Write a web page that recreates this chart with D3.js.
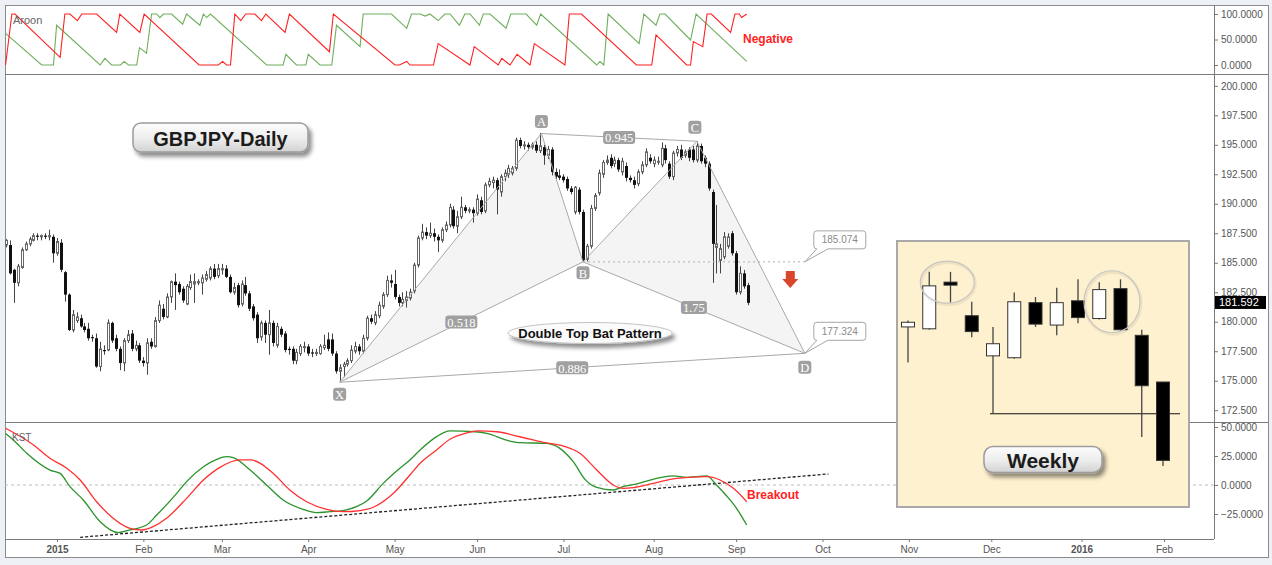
<!DOCTYPE html>
<html lang="en">
<head>
<meta charset="utf-8">
<title>GBPJPY Daily</title>
<script src="https://cdn.jsdelivr.net/npm/d3@7"></script>
<style type="text/css">
  body { margin: 0; background: #edf1f5; }
  svg { display: block; font-family: "Liberation Sans", Arial, sans-serif; }
  .axis text { fill: #555; font-size: 10px; }
  .axis line { stroke: #777; }
  .axis path { display: none; }
  .tag text { fill: #fff; font-family: "Liberation Serif", serif; font-size: 12.5px; }
</style>
</head>
<body>
<svg width="1272" height="565"></svg>
<script type="text/javascript">
// daily candles [open, high, low, close]; first bar is 2014-12-15
var dec14 = [[186.5,187.0,186.3,186.9],[186.5,186.9,184.0,184.1],[184.4,184.5,181.6,183.3],[183.3,184.9,183.0,184.7],
  [184.6,186.3,184.5,186.1],[186.1,186.8,186.0,186.6],[186.6,187.2,186.4,187.0],[186.9,187.5,186.8,187.3],
  [187.3,187.5,186.9,187.2],[187.2,187.4,186.9,187.3],[187.3,187.5,187.0,187.2],[187.2,187.8,186.9,187.3],
  [187.2,187.4,185.0,185.8]];
var jan15 = [[185.8,187.1,185.6,186.8],[186.7,187.0,184.2,184.4],[184.2,184.3,181.7,182.3],[182.3,182.4,179.2,179.3],
  [179.3,181.0,179.1,180.6],[180.1,180.8,179.9,180.4],[180.3,180.6,179.5,179.6],[179.6,179.9,179.1,179.3],
  [179.4,179.9,178.4,178.6],[178.7,178.9,178.3,178.6],[178.6,179.0,176.1,176.2],[176.2,178.3,175.8,177.7],
  [177.6,178.0,177.2,177.5],[177.6,180.2,177.5,179.9],[179.9,180.0,178.2,178.4],[178.6,178.9,177.5,177.7],
  [177.7,177.9,175.9,176.5],[176.5,178.6,175.8,178.4],[178.4,179.3,178.2,178.9],[179.0,179.3,177.5,177.7],
  [177.7,178.4,177.5,178.0],[178.0,178.2,176.5,176.7]];
var feb15 = [[176.7,177.0,176.2,176.5],[176.5,178.6,175.5,178.2],[178.3,178.6,177.7,177.9],[177.9,180.4,177.8,180.1],
  [180.1,181.8,179.9,181.4],[181.1,181.5,180.2,180.4],[180.4,182.4,180.3,182.1],[182.1,183.5,181.6,183.4],
  [183.4,184.1,181.0,183.1],[183.2,183.4,182.3,182.5],[182.8,183.0,181.6,181.8],[181.5,183.2,181.4,183.0],
  [182.9,184.0,182.7,183.4],[183.2,184.1,181.6,183.4],[183.3,183.6,183.1,183.4],[183.3,184.0,182.3,183.7],
  [183.6,184.3,183.4,184.0],[183.7,184.7,183.5,184.5],[184.5,184.9,183.6,183.8],[183.9,184.9,183.7,184.5]];
var mar15 = [[184.4,184.9,184.0,184.5],[184.5,184.8,183.7,183.8],[183.8,184.0,182.4,182.5],[182.5,183.3,182.3,182.9],
  [183.1,183.3,181.2,181.4],[181.5,183.5,181.3,183.2],[183.1,183.8,182.2,182.4],[182.4,182.6,180.9,181.1],
  [181.3,181.5,180.1,180.3],[180.6,180.8,178.2,178.6],[178.7,180.1,178.4,179.9],[179.9,180.1,178.2,178.9],
  [178.9,181.0,177.2,179.9],[179.9,180.1,177.9,178.2],[178.0,179.9,177.8,179.6],[179.4,179.6,178.7,178.9],
  [179.0,179.2,177.4,177.6],[177.7,177.9,177.2,177.6],[177.7,177.9,176.4,176.7],[176.7,177.7,176.4,177.4],
  [177.3,178.1,177.1,177.9],[177.8,178.3,177.4,177.9]];
var apr15 = [[177.9,178.1,177.1,177.3],[177.4,177.7,177.0,177.3],[177.3,177.7,177.1,177.4],[177.3,178.1,177.2,177.9],
  [177.8,178.9,177.6,178.0],[178.5,179.1,177.5,177.7],[178.5,179.0,177.1,177.3],[177.3,177.5,175.6,175.8],
  [175.8,176.4,174.9,176.1],[176.2,176.6,175.3,176.4],[176.4,176.9,176.2,176.7],[176.7,178.0,176.5,177.6],
  [177.5,178.3,177.3,177.9],[177.9,178.1,177.2,177.5],[177.5,178.9,177.3,178.6],[178.6,180.5,178.4,180.3],
  [180.3,180.6,179.8,180.0],[179.9,180.9,179.7,180.6],[180.5,181.7,180.3,181.4],[181.3,182.5,181.1,182.3],
  [182.3,183.9,182.1,183.5],[183.5,184.0,182.9,183.3]];
var may15 = [[183.2,184.4,181.9,182.1],[182.1,182.3,181.3,181.6],[181.6,182.5,181.3,181.9],[181.8,182.6,181.2,182.1],
  [182.0,182.8,181.8,182.5],[182.6,185.0,182.4,184.8],[184.8,187.3,184.6,187.1],[187.1,188.3,186.9,187.6],
  [187.6,188.0,187.0,187.3],[187.3,188.4,187.1,187.5],[187.5,187.9,186.8,187.2],[187.2,187.4,185.9,186.9],
  [186.9,188.0,186.7,187.8],[187.8,188.5,187.6,188.2],[188.2,190.0,188.0,189.7],[189.5,189.8,187.9,188.1],
  [188.1,189.4,187.5,188.9],[188.9,190.6,188.7,189.7],[189.7,189.9,189.2,189.4],[189.4,189.7,189.2,189.5],
  [189.5,189.7,188.4,189.2]];
var jun15 = [[189.2,190.8,189.0,190.4],[190.3,190.6,189.1,189.3],[189.4,191.8,189.2,191.6],[191.6,192.2,191.4,191.9],
  [191.8,192.3,191.3,192.0],[192.0,192.2,189.1,191.2],[191.0,192.5,190.6,192.3],[192.3,192.9,191.9,192.6],
  [192.5,193.3,192.2,193.0],[192.6,193.2,192.4,193.0],[193.0,195.6,192.8,195.4],[195.4,195.6,194.7,194.9],
  [194.9,195.3,194.6,195.0],[195.0,195.2,194.5,194.8],[194.8,195.2,194.6,195.0],[195.0,195.3,194.3,194.5],
  [194.5,196.0,194.3,194.9],[194.8,195.0,193.3,194.1],[194.1,194.9,193.8,194.6],[194.6,194.8,192.4,192.7],
  [192.7,193.0,192.1,192.3],[192.4,192.9,192.0,192.2]];
var jul15 = [[192.3,192.5,191.8,192.0],[192.1,192.3,191.1,191.3],[191.3,191.5,190.8,191.0],[189.3,191.5,189.1,191.4],
  [191.2,191.4,189.1,189.3],[189.3,189.5,185.07,185.2],[185.3,186.6,185.1,186.4],[186.4,189.9,186.2,189.6],
  [189.6,190.9,189.4,190.7],[190.9,192.9,190.7,192.6],[192.5,193.7,192.2,193.5],[193.5,194.1,193.3,193.7],
  [193.9,194.2,193.0,193.2],[193.4,194.0,193.1,193.7],[193.7,193.9,192.7,192.9],[192.7,193.9,192.4,193.6],
  [193.2,193.5,191.9,192.2],[192.2,192.4,191.8,192.0],[192.0,192.3,191.3,191.6],[191.7,192.9,191.5,192.7],
  [192.7,193.6,192.5,193.3],[193.3,194.7,193.1,194.4],[193.9,194.2,193.4,193.6]];
var aug15 = [[193.4,194.0,193.1,193.7],[193.6,194.0,193.3,193.6],[193.3,195.2,193.1,194.7],[194.7,195.0,193.4,193.7],
  [193.4,193.6,192.1,192.3],[192.3,194.5,192.0,194.3],[194.3,194.9,194.0,194.6],[194.6,195.0,193.7,193.9],
  [194.1,194.6,193.9,194.4],[194.6,194.8,193.6,193.9],[194.6,194.9,193.5,193.7],[193.7,195.3,193.5,194.9],
  [194.9,195.1,193.4,193.6],[193.9,194.1,193.1,193.4],[193.4,193.6,191.1,191.3],[191.0,191.2,183.3,186.6],
  [186.3,189.9,184.1,186.6],[185.2,186.6,184.1,186.2],[185.5,187.6,185.3,187.2],[186.4,187.5,186.2,187.2],
  [187.5,187.7,185.6,185.8]];
var sep15 = [[185.8,186.0,182.3,182.5],[182.5,184.7,182.3,184.1],[184.1,184.4,182.8,183.0],[183.1,183.3,181.4,181.6]];
var lastPrice = 181.592;

// Aroon vertices [bar, value]; bar counts trading days from 2015-01-01
var aroonUp = [[-13.1,62],[-3.9,0],[-0.9,0],[-0.1,78],[11.0,0],[12.2,13],[13.9,0],[16.2,0],[17.1,7],[18.2,0],[20.3,0],
  [21.0,34],[22.8,23],[24.1,100],[25.4,100],[26.2,93],[27.1,100],[29.2,100],[32.0,80],[33.0,100],[36.4,78],[37.3,100],
  [38.1,93],[39.1,100],[53.4,0],[57.6,0],[58.3,21],[61.0,0],[63.4,0],[64.0,21],[67.0,0],[70.0,0],[71.2,78],[77.2,36],
  [78.0,100],[85.2,100],[89.1,72],[90.3,100],[92.5,100],[93.8,96],[95.0,100],[97.1,87],[98.8,100],[100.1,100],
  [102.5,78],[103.9,100],[105.2,100],[107.6,78],[108.6,100],[110.3,100],[114.4,72],[115.6,100],[119.5,100],[122.2,78],
  [123.2,100],[137.5,0],[138.3,7],[139.3,0],[140.4,100],[148.3,42],[149.5,100],[152.6,78],[153.6,100],[154.9,100],
  [161.4,49],[162.8,100],[175.7,7]];
var aroonDown = [[-13.1,0],[-11.5,100],[-10.7,100],[0.8,15],[2.0,100],[3.3,100],[5.2,87],[6.3,100],[10.1,100],[15.2,64],
  [16.0,100],[21.1,64],[22.2,100],[36.2,0],[41.1,0],[42.2,7],[43.2,0],[44.2,0],[45.3,100],[46.8,87],[48.1,100],[50.4,100],
  [52.1,87],[53.2,100],[58.1,64],[59.2,100],[69.4,26],[70.4,100],[86.1,0],[87.2,0],[89.1,7],[89.9,0],[95.9,0],[97.1,42],
  [105.2,0],[106.3,36],[112.4,0],[113.3,13],[115.4,0],[117.2,21],[120.5,0],[121.6,42],[129.4,0],[130.5,100],[133.6,100],
  [147.6,0],[151.5,0],[152.6,59],[160.4,0],[161.4,0],[162.1,46],[164.5,36],[165.6,100],[166.7,100],[171.6,64],
  [172.7,100],[173.8,100],[174.4,93],[175.7,100]];

// KST and its signal line [bar, value]
var kst = [[-13.1,44.5],[-11.1,38.8],[-7.7,27.3],[-1.8,12.9],[0.8,10],[3.3,-1.4],[6.7,-12.9],[11.0,-31.6],[15.6,-41],
  [17.8,-39.4],[22.8,-34.5],[25.4,-25.9],[30.5,-7.2],[33.0,2.9],[37.3,15.8],[40.7,22.1],[43.2,24.4],[44.9,23.6],
  [49.2,12.9],[53.4,0],[57.6,-12.9],[62.7,-21],[66.1,-23.8],[69.5,-23],[72.9,-22],[76.3,-18.7],[78.9,-13.8],[83.1,1.4],
  [86.5,12.1],[89.9,21.6],[92.5,30.2],[96.7,41.7],[100.1,46.6],[106.5,45.9],[109.5,44.5],[115.0,38.2],[117.9,36.5],
  [124.7,35.9],[128.1,31.6],[131.5,20.1],[134.5,4.9],[137.5,-2],[141.7,-4.3],[144.2,-1.4],[147.7,0.9],[151.1,4.3],
  [157.0,7.8],[160.4,6.6],[165.5,7.8],[168.0,0],[170.6,-9.5],[173.1,-20.1],[175.7,-34.5]];
var kstSignal = [[-13.1,48.9],[-6.0,34.5],[-1.8,23],[2.5,14.4],[5.9,4.3],[10.1,-14.4],[14.3,-28.7],[18.6,-37.4],
  [21.6,-38.8],[24.5,-35.9],[27.9,-28.7],[33.0,-11.5],[37.3,4.3],[41.5,15.2],[46.6,21.6],[49.2,21.6],[55.1,10],
  [59.3,-4.3],[63.6,-14.4],[68.7,-21],[72.9,-23],[77.2,-22],[80.6,-19.2],[85.7,-7.2],[89.9,8.6],[92.5,18.7],
  [96.7,30.2],[100.1,39.4],[103.5,44],[107.3,46.6],[112.0,45.9],[117.9,41.6],[123.9,36.8],[129.0,33.6],[133.2,27.3],
  [137.5,12.9],[141.7,0],[144.2,-2.9],[146.8,-2.3],[151.9,1.4],[157.8,5.8],[165.5,7.2],[168.9,4.3],[172.3,-2.9],
  [175.7,-14.4]];
var kstTrend = [[5.9,-45.1],[196.5,9.5]];

// bat pattern points [bar, price] and leg ratios
var patternNames = ["X", "A", "B", "C", "D"];
var patternPoints = [[72, 174.87], [123.4, 195.95], [134, 185.074], [163, 195.3], [190.5, 177.324]];
var legRatios = [["X", "B", "0.518"], ["A", "C", "0.945"], ["B", "D", "1.75"], ["X", "D", "0.886"]];

// weekly inset candles [open, high, low, close]
var weekly = [[181.4,182.1,177.6,181.9],[181.2,187.3,181.1,185.8],[186.2,187.3,184.0,186.1],[182.6,184.1,180.3,180.9],
  [178.3,181.4,172.1,179.6],[178.1,185.1,178.0,184.1],[184.0,184.6,181.4,181.7],[181.6,185.6,180.5,184.0],
  [184.2,186.5,181.8,182.4],[182.3,186.2,182.2,185.4],[185.5,186.5,181.0,181.1],[180.5,181.1,169.6,175.1],
  [175.5,175.5,166.5,167.1]];
var weeklySupport = 172.1;

var aroonTicks = [0, 50, 100];
var priceTicks = [172.5, 175, 177.5, 180, 182.5, 185, 187.5, 190, 192.5, 195, 197.5, 200];
var kstTicks = [-25, 0, 25, 50];

var svg = d3.select("svg"),
    width = +svg.attr("width"),
    height = +svg.attr("height");

var plotL = 5, plotR = 1214, frameR = 1268, frameB = 557;
var aroonT = 5, mainT = 74, kstT = 422, plotB = 539;

// trading-day index (weekdays) counted from 2015-01-01
var origin = new Date(Date.UTC(2015, 0, 1));
function isWeekday(t) { var w = t.getUTCDay(); return w > 0 && w < 6; }
function barOf(d) {
  if (d < origin) return -d3.utcDay.range(d, origin).filter(isWeekday).length;
  return d3.utcDay.range(origin, d).filter(isWeekday).length;
}

var candles = [];
var bar = barOf(new Date(Date.UTC(2014, 11, 15)));
[dec14, jan15, feb15, mar15, apr15, may15, jun15, jul15, aug15, sep15].forEach(function(m) {
  m.forEach(function(c) { candles.push({i: bar++, o: c[0], h: c[1], l: c[2], c: c[3]}); });
});

var x = d3.scaleLinear()
  .domain([barOf(origin), barOf(new Date(Date.UTC(2016, 1, 1)))])
  .range([57, 1164]);
var yAroon = d3.scaleLinear().domain([0, 100]).range([65, 14]);
var yMain = d3.scaleLinear().domain([172.5, 200]).range([410.2, 85.8]);
var yKst = d3.scaleLinear().domain([-25, 50]).range([514, 427]);

var defs = svg.append("defs");
function clip(id, y0, y1) {
  defs.append("clipPath").attr("id", id).append("rect")
    .attr("x", plotL).attr("y", y0).attr("width", plotR - plotL).attr("height", y1 - y0);
}
clip("clipAroon", aroonT, mainT);
clip("clipMain", mainT, kstT);
clip("clipKst", kstT, plotB);

var grad = defs.append("linearGradient").attr("id", "btn").attr("x1", 0).attr("y1", 0).attr("x2", 0).attr("y2", 1);
grad.append("stop").attr("offset", "0%").attr("stop-color", "#fdfdfd");
grad.append("stop").attr("offset", "55%").attr("stop-color", "#ececec");
grad.append("stop").attr("offset", "100%").attr("stop-color", "#d2d2d2");

var shadow = defs.append("filter").attr("id", "shadow")
  .attr("x", "-20%").attr("y", "-40%").attr("width", "150%").attr("height", "200%");
shadow.append("feGaussianBlur").attr("in", "SourceAlpha").attr("stdDeviation", 2);
shadow.append("feOffset").attr("dx", 3).attr("dy", 4);
shadow.append("feComponentTransfer").append("feFuncA").attr("type", "linear").attr("slope", 0.45);
var merge = shadow.append("feMerge");
merge.append("feMergeNode");
merge.append("feMergeNode").attr("in", "SourceGraphic");

// frame
svg.append("rect")
  .attr("x", plotL + 0.5).attr("y", aroonT + 0.5)
  .attr("width", frameR - plotL).attr("height", frameB - aroonT)
  .attr("fill", "#fff").attr("stroke", "#8a8a8a");

// ---- aroon panel
var aroonLine = d3.line().x(function(d) { return x(d[0]); }).y(function(d) { return yAroon(d[1]); });
var gA = svg.append("g").attr("clip-path", "url(#clipAroon)");
gA.append("path").datum(aroonUp).attr("d", aroonLine)
  .attr("fill", "none").attr("stroke", "#6fae5c").attr("stroke-width", 1.1);
gA.append("path").datum(aroonDown).attr("d", aroonLine)
  .attr("fill", "none").attr("stroke", "#ff2121").attr("stroke-width", 1.1);
svg.append("text").attr("x", 13).attr("y", 24).attr("fill", "#666").style("font-size", "11px").text("Aroon");
svg.append("text").attr("x", 743).attr("y", 43).attr("fill", "#ff2323")
  .style("font-size", "12px").style("font-weight", "bold").text("Negative");

// ---- main panel
var byName = {};
patternNames.forEach(function(n, i) {
  byName[n] = {x: x(patternPoints[i][0]), y: yMain(patternPoints[i][1]), p: patternPoints[i][1]};
});
var gM = svg.append("g").attr("clip-path", "url(#clipMain)");

[["X", "A", "B"], ["B", "C", "D"]].forEach(function(t) {
  gM.append("path")
    .attr("d", "M" + t.map(function(n) { return byName[n].x + "," + byName[n].y; }).join("L") + "Z")
    .attr("fill", "#f4f4f4");
});

var candle = gM.selectAll(".candle").data(candles).enter().append("g").attr("class", "candle");
candle.append("line")
  .attr("x1", function(d) { return Math.round(x(d.i)) + 0.5; })
  .attr("x2", function(d) { return Math.round(x(d.i)) + 0.5; })
  .attr("y1", function(d) { return yMain(d.h); })
  .attr("y2", function(d) { return yMain(d.l); })
  .attr("stroke", "#444");
candle.append("rect")
  .attr("x", function(d) { return d.c >= d.o ? Math.round(x(d.i)) - 0.5 : Math.round(x(d.i)) - 1; })
  .attr("width", function(d) { return d.c >= d.o ? 2 : 3; })
  .attr("y", function(d) { return yMain(Math.max(d.o, d.c)); })
  .attr("height", function(d) { return Math.max(1, Math.abs(yMain(d.o) - yMain(d.c))); })
  .attr("fill", function(d) { return d.c >= d.o ? "#fff" : "#111"; })
  .attr("stroke", function(d) { return d.c >= d.o ? "#666" : "none"; });

// pattern legs
[["X", "A"], ["A", "B"], ["X", "B"], ["A", "C"], ["B", "C"], ["C", "D"], ["B", "D"], ["X", "D"]].forEach(function(l) {
  gM.append("line")
    .attr("x1", byName[l[0]].x).attr("y1", byName[l[0]].y)
    .attr("x2", byName[l[1]].x).attr("y2", byName[l[1]].y)
    .attr("stroke", "#a9a9a9").attr("stroke-width", 1);
});
gM.append("line")
  .attr("x1", byName.B.x).attr("x2", byName.D.x)
  .attr("y1", byName.B.y).attr("y2", byName.B.y)
  .attr("stroke", "#b0b0b0").attr("stroke-dasharray", "2,3");

function tag(cx, cy, label) {
  var w = label.length > 1 ? label.length * 6 + 2 : 13;
  var g = gM.append("g").attr("class", "tag");
  g.append("rect").attr("x", cx - w / 2).attr("y", cy - 6.5).attr("width", w).attr("height", 13)
    .attr("rx", 3).attr("fill", "#a0a0a0");
  g.append("text").attr("x", cx).attr("y", cy + 0.5).attr("dy", "0.35em").attr("text-anchor", "middle").text(label);
}
legRatios.forEach(function(r) {
  tag((byName[r[0]].x + byName[r[1]].x) / 2, (byName[r[0]].y + byName[r[1]].y) / 2, r[2]);
});
tag(byName.X.x, byName.X.y + 12, "X");
tag(byName.A.x, byName.A.y - 12, "A");
tag(byName.B.x, byName.B.y + 11, "B");
tag(byName.C.x - 2, byName.C.y - 14, "C");
tag(byName.D.x, byName.D.y + 14, "D");

function bubble(pt, label) {
  var px = pt.x, py = pt.y;
  var x0 = px + 9, x1 = px + 61, y1 = py - 13, y0 = y1 - 18, r = 3;
  var d = "M" + (x0 + r) + "," + y0 + "H" + (x1 - r) + "Q" + x1 + "," + y0 + " " + x1 + "," + (y0 + r) +
    "V" + (y1 - r) + "Q" + x1 + "," + y1 + " " + (x1 - r) + "," + y1 +
    "H" + (x0 + 14) + "L" + px + "," + py + "L" + (x0 + 3) + "," + y1 +
    "Q" + x0 + "," + y1 + " " + x0 + "," + (y1 - r) + "V" + (y0 + r) +
    "Q" + x0 + "," + y0 + " " + (x0 + r) + "," + y0 + "Z";
  svg.append("path").attr("d", d).attr("fill", "#fff").attr("stroke", "#a5a5a5");
  svg.append("text").attr("x", (x0 + x1) / 2).attr("y", (y0 + y1) / 2).attr("dy", "0.35em")
    .attr("text-anchor", "middle").attr("fill", "#8a8a8a").style("font-size", "10px").text(label);
}
bubble({x: byName.D.x, y: byName.B.y}, d3.format(".3f")(byName.B.p));
bubble(byName.D, d3.format(".3f")(byName.D.p));

// red arrow
var ax = x(186.8), ay = yMain(184.3);
svg.append("path")
  .attr("d", "M" + (ax - 4.5) + "," + ay + "H" + (ax + 4.5) + "V" + (ay + 8) + "H" + (ax + 8) +
    "L" + ax + "," + (ay + 17) + "L" + (ax - 8) + "," + (ay + 8) + "H" + (ax - 4.5) + "Z")
  .attr("fill", "#d8462b");

// titles
function button(cx, cy, w, h, label, size, rx) {
  svg.append("rect").attr("x", cx - w / 2).attr("y", cy - h / 2).attr("width", w).attr("height", h).attr("rx", rx)
    .attr("fill", "url(#btn)").attr("stroke", "#9c9c9c").attr("stroke-width", 1.5).attr("filter", "url(#shadow)");
  svg.append("text").attr("x", cx).attr("y", cy + 1).attr("dy", "0.35em").attr("text-anchor", "middle")
    .style("font-size", size + "px").style("font-weight", "bold").attr("fill", "#1c1c1c").text(label);
}
button(220.5, 137.5, 175, 29, "GBPJPY-Daily", 20, 8);

svg.append("ellipse").attr("cx", 590).attr("cy", 333).attr("rx", 82).attr("ry", 10.5)
  .attr("fill", "#fbfbfb").attr("stroke", "#c4c4c4").attr("filter", "url(#shadow)");
svg.append("text").attr("x", 590).attr("y", 333).attr("dy", "0.35em").attr("text-anchor", "middle")
  .style("font-size", "13px").style("font-weight", "bold").attr("fill", "#111").text("Double Top Bat Pattern");

// ---- KST panel
var kstLine = d3.line().curve(d3.curveMonotoneX)
  .x(function(d) { return x(d[0]); }).y(function(d) { return yKst(d[1]); });
svg.append("line").attr("x1", plotL).attr("x2", plotR + 4).attr("y1", yKst(0)).attr("y2", yKst(0))
  .attr("stroke", "#bdbdbd").attr("stroke-dasharray", "3,3");
var gK = svg.append("g").attr("clip-path", "url(#clipKst)");
gK.append("path").datum(kstTrend).attr("d", d3.line().x(function(d) { return x(d[0]); }).y(function(d) { return yKst(d[1]); }))
  .attr("stroke", "#222").attr("stroke-width", 1.3).attr("stroke-dasharray", "3,2").attr("fill", "none");
gK.append("path").datum(kst).attr("d", kstLine)
  .attr("fill", "none").attr("stroke", "#2a922a").attr("stroke-width", 1.3);
gK.append("path").datum(kstSignal).attr("d", kstLine)
  .attr("fill", "none").attr("stroke", "#ff3030").attr("stroke-width", 1.3);
svg.append("text").attr("x", 12).attr("y", 441).attr("fill", "#666").style("font-size", "10px").text("KST");
svg.append("text").attr("x", 747).attr("y", 499).attr("fill", "#ff2323")
  .style("font-size", "12px").style("font-weight", "bold").text("Breakout");

// ---- dividers and axes
[mainT, kstT].forEach(function(y) {
  svg.append("line").attr("x1", plotL).attr("x2", frameR).attr("y1", y + 0.5).attr("y2", y + 0.5).attr("stroke", "#7a7a7a");
});
svg.append("line").attr("x1", plotL).attr("x2", plotR).attr("y1", plotB + 0.5).attr("y2", plotB + 0.5).attr("stroke", "#7a7a7a");
svg.append("line").attr("x1", plotR + 0.5).attr("x2", plotR + 0.5).attr("y1", aroonT).attr("y2", plotB).attr("stroke", "#7a7a7a");

svg.append("g").attr("class", "axis").attr("transform", "translate(" + plotR + ",0)")
  .call(d3.axisRight(yAroon).tickValues(aroonTicks).tickFormat(d3.format(".4f")).tickSize(4).tickPadding(3));
svg.append("g").attr("class", "axis").attr("transform", "translate(" + plotR + ",0)")
  .call(d3.axisRight(yMain).tickValues(priceTicks).tickFormat(d3.format(".3f")).tickSize(4).tickPadding(3));
svg.append("g").attr("class", "axis").attr("transform", "translate(" + plotR + ",0)")
  .call(d3.axisRight(yKst).tickValues(kstTicks).tickFormat(d3.format(".4f")).tickSize(4).tickPadding(3));

var lp = yMain(lastPrice);
svg.append("rect").attr("x", plotR + 1).attr("y", lp - 7).attr("width", 51).attr("height", 13).attr("fill", "#000");
svg.append("text").attr("x", plotR + 5).attr("y", lp - 0.5).attr("dy", "0.35em").attr("fill", "#fff")
  .style("font-size", "11px").text(d3.format(".3f")(lastPrice));

var months = d3.utcMonth.range(origin, new Date(Date.UTC(2016, 1, 2)));
var monthBars = months.map(function(m) {
  var d = m;
  while (!isWeekday(d)) d = d3.utcDay.offset(d, 1);
  return barOf(d);
});
var xAxis = svg.append("g").attr("class", "axis").attr("transform", "translate(0," + plotB + ")")
  .call(d3.axisBottom(x).tickValues(monthBars).tickSize(3).tickPadding(4)
    .tickFormat(function(d, i) { return months[i].getUTCMonth() === 0 ? d3.utcFormat("%Y")(months[i]) : d3.utcFormat("%b")(months[i]); }));
xAxis.selectAll("text")
  .style("font-weight", function(d, i) { return months[i].getUTCMonth() === 0 ? "bold" : null; })
  .attr("fill", function(d, i) { return months[i].getUTCMonth() === 0 ? "#444" : "#666"; });

// ---- weekly inset
var xw = d3.scaleLinear().domain([0, weekly.length - 1]).range([908, 1163]);
var yw = d3.scaleLinear().domain([166.5, 187.5]).range([466, 270]);
svg.append("rect").attr("x", 897).attr("y", 241).attr("width", 292).attr("height", 266)
  .attr("fill", "#fef1cf").attr("stroke", "#a9a9a9").attr("stroke-width", 2);

svg.append("line").attr("x1", xw(4) - 3).attr("x2", 1180).attr("y1", yw(weeklySupport)).attr("y2", yw(weeklySupport))
  .attr("stroke", "#111").attr("stroke-width", 1.2);

var wk = svg.selectAll(".week").data(weekly).enter().append("g").attr("class", "week");
wk.append("line")
  .attr("x1", function(d, i) { return xw(i); }).attr("x2", function(d, i) { return xw(i); })
  .attr("y1", function(d) { return yw(d[1]); }).attr("y2", function(d) { return yw(d[2]); })
  .attr("stroke", "#444").attr("stroke-width", 1.3);
wk.append("rect")
  .attr("x", function(d, i) { return xw(i) - 6.5; }).attr("width", 13)
  .attr("y", function(d) { return yw(Math.max(d[0], d[3])); })
  .attr("height", function(d) { return Math.max(3, Math.abs(yw(d[0]) - yw(d[3]))); })
  .attr("fill", function(d) { return d[3] >= d[0] ? "#fff" : "#000"; })
  .attr("stroke", "#333").attr("stroke-width", 1);

[[1.85, 186.2, 27, 21], [9.6, 184.1, 28, 31]].forEach(function(c) {
  svg.append("ellipse").attr("cx", xw(c[0]) + 1).attr("cy", yw(c[1]) + 1.5).attr("rx", c[2]).attr("ry", c[3])
    .attr("fill", "none").attr("stroke", "#000").attr("stroke-opacity", 0.06).attr("stroke-width", 3);
  svg.append("ellipse").attr("cx", xw(c[0])).attr("cy", yw(c[1])).attr("rx", c[2]).attr("ry", c[3])
    .attr("fill", "none").attr("stroke", "#c6c6c6").attr("stroke-width", 1.2);
});

button(1043, 459.5, 118, 26, "Weekly", 21, 9);
</script>
</body>
</html>
